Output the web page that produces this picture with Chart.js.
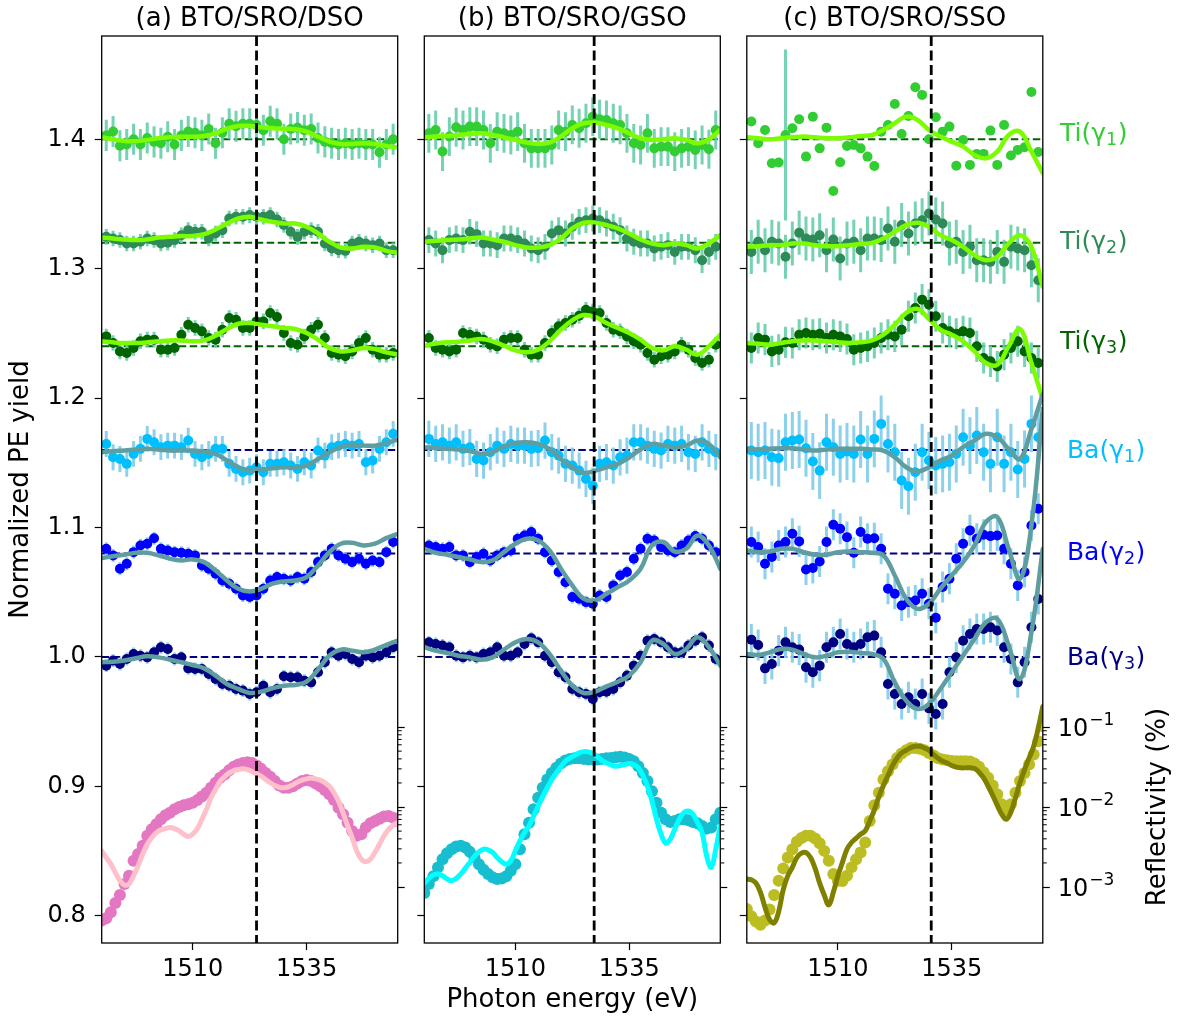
<!DOCTYPE html>
<html>
<head>
<meta charset="utf-8">
<title>Normalized PE yield</title>
<script src="https://cdn.jsdelivr.net/npm/chart.js@4.4.1/dist/chart.umd.min.js"></script>
<style>
  html, body { margin:0; padding:0; background:#ffffff; }
  #wrap { position:relative; width:1183px; height:1023px; overflow:hidden; background:#fff; }
  #wrap canvas { position:absolute; left:0; top:0; }
</style>
</head>
<body>
<div id="wrap">
  <canvas id="panelA" width="1183" height="1023"></canvas>
  <canvas id="panelB" width="1183" height="1023"></canvas>
  <canvas id="panelC" width="1183" height="1023"></canvas>
</div>
<script>
// ---------------- DATA ----------------
const panelTitles = ['(a) BTO/SRO/DSO', '(b) BTO/SRO/GSO', '(c) BTO/SRO/SSO'];
const seriesNames = ['Ti', 'Ti', 'Ti', 'Ba', 'Ba', 'Ba'];
const seriesSubs = ['1', '2', '3', '1', '2', '3'];
const baselines = [1.40, 1.32, 1.24, 1.16, 1.08, 1.00];
const vlines = [1524.0, 1527.3, 1530.5];
const xLimits = [1490, 1555];
const xTicks = [1510, 1535];
const yTicks = [0.8, 0.9, 1.0, 1.1, 1.2, 1.3, 1.4];
const reflTicks = [0.001, 0.01, 0.1];
const reflTickExp = ['−3', '−2', '−1'];
const reflMinor = [0.002,0.003,0.004,0.005,0.006,0.007,0.008,0.009,0.02,0.03,0.04,0.05,0.06,0.07,0.08,0.09];

const peE = [1491,1492.5,1494,1495.5,1497,1498.5,1500,1501.5,1503,1504.5,1506,1507.5,1509,1510.5,1512,1513.5,1515,1516.5,1518,1519.5,1521,1522.5,1524,1525.5,1527,1528.5,1530,1531.5,1533,1534.5,1536,1537.5,1539,1540.5,1542,1543.5,1545,1546.5,1548,1549.5,1551,1552.5,1554];
const fitE = [1490,1492.5,1495,1497.5,1500,1502.5,1505,1507.5,1510,1512.5,1515,1517.5,1520,1522.5,1525,1527.5,1530,1532.5,1535,1537.5,1540,1542.5,1545,1547.5,1550,1552.5,1555];
const refE = [1490,1491,1492,1493,1494,1495,1496,1497,1498,1499,1500,1501,1502,1503,1504,1505,1506,1507,1508,1509,1510,1511,1512,1513,1514,1515,1516,1517,1518,1519,1520,1521,1522,1523,1524,1525,1526,1527,1528,1529,1530,1531,1532,1533,1534,1535,1536,1537,1538,1539,1540,1541,1542,1543,1544,1545,1546,1547,1548,1549,1550,1551,1552,1553,1554,1555];

// Panel (a) BTO/SRO/DSO
const aTi1 = [1.403,1.406,1.395,1.396,1.400,1.396,1.401,1.398,1.397,1.402,1.396,1.403,1.406,1.405,1.403,1.408,1.397,1.405,1.412,1.410,1.412,1.412,1.411,1.407,1.414,1.412,1.400,1.408,1.409,1.407,1.408,1.401,1.398,1.397,1.396,1.397,1.396,1.397,1.396,1.396,1.390,1.396,1.400];
const aTi1Fit = [1.4015,1.400,1.3987,1.3985,1.3995,1.4008,1.4015,1.402,1.402,1.4026,1.4046,1.4082,1.4103,1.4103,1.4093,1.4085,1.4082,1.4077,1.4059,1.402,1.3982,1.3964,1.3964,1.3969,1.3964,1.3948,1.3938];
const aTi2 = [1.3246,1.3233,1.3221,1.3195,1.3195,1.3208,1.3233,1.3221,1.3195,1.320,1.3221,1.3259,1.3298,1.3285,1.3285,1.3233,1.3272,1.3298,1.3388,1.3401,1.3401,1.3414,1.3401,1.3401,1.3414,1.338,1.3337,1.3285,1.3246,1.3285,1.3298,1.3285,1.3195,1.3156,1.3143,1.3138,1.3195,1.3208,1.3195,1.3182,1.3195,1.3143,1.3143];
const aTi2Fit = [1.3241,1.3233,1.3226,1.3221,1.3226,1.3241,1.3246,1.3252,1.3252,1.3267,1.3303,1.3349,1.3388,1.3401,1.338,1.3362,1.3349,1.3349,1.3324,1.3272,1.3208,1.3164,1.3156,1.3169,1.3164,1.3138,1.3123];
const aTi3 = [1.2477,1.2426,1.2361,1.2348,1.2387,1.2439,1.2452,1.2452,1.2374,1.2374,1.2387,1.249,1.2567,1.2542,1.2516,1.2464,1.2452,1.2529,1.2619,1.2606,1.2542,1.2542,1.2593,1.2593,1.2658,1.2627,1.2503,1.2426,1.2413,1.2477,1.2529,1.2567,1.2464,1.2348,1.2336,1.2323,1.2361,1.2426,1.2464,1.2374,1.2336,1.2336,1.2348];
const aTi3Fit = [1.2439,1.2431,1.2426,1.2426,1.2431,1.2439,1.2446,1.2446,1.2439,1.2446,1.2482,1.2534,1.2575,1.258,1.2567,1.2555,1.2542,1.2534,1.2503,1.2452,1.2387,1.2361,1.2369,1.2387,1.2379,1.2354,1.2336];
const aBa1 = [1.1646,1.1543,1.153,1.1492,1.1569,1.1608,1.1685,1.1659,1.1621,1.1633,1.1633,1.1621,1.1672,1.1569,1.1543,1.1569,1.1608,1.1608,1.1492,1.1453,1.1427,1.144,1.1466,1.1427,1.1492,1.1492,1.1505,1.1479,1.1453,1.1505,1.1479,1.1595,1.1556,1.1621,1.1633,1.1646,1.1633,1.1646,1.1505,1.1518,1.1608,1.1659,1.1724];
const aBa1Fit = [1.1582,1.159,1.1595,1.1603,1.1608,1.1603,1.1595,1.1595,1.1595,1.1587,1.1569,1.1518,1.1466,1.144,1.1448,1.1458,1.1466,1.1466,1.1479,1.153,1.1582,1.1621,1.1639,1.1633,1.1633,1.1654,1.168];
const aBa2 = [1.0836,1.0785,1.0682,1.072,1.081,1.0862,1.0875,1.0918,1.0836,1.0823,1.081,1.0805,1.0797,1.0785,1.0707,1.0682,1.0643,1.0591,1.0566,1.0527,1.0475,1.0463,1.0475,1.0527,1.0591,1.0617,1.0604,1.0591,1.0617,1.0604,1.0656,1.0733,1.0785,1.0836,1.0785,1.0759,1.0733,1.0759,1.072,1.0746,1.0733,1.081,1.0888];
const aBa2Fit = [1.0764,1.0779,1.079,1.0805,1.0805,1.0785,1.0759,1.0746,1.0754,1.0733,1.0669,1.0591,1.0527,1.0506,1.0527,1.0566,1.0584,1.0591,1.0617,1.0707,1.081,1.0875,1.0882,1.0862,1.0875,1.0918,1.0952];
const aBa3 = [0.9933,0.9972,0.9946,0.9985,1.0023,1.001,0.9997,1.0036,1.0075,1.0062,0.9985,0.9997,0.9912,0.9907,0.9907,0.9869,0.983,0.9791,0.9778,0.9753,0.974,0.9714,0.9727,0.9778,0.9727,0.9753,0.9851,0.9843,0.9843,0.9817,0.9804,0.9882,0.9959,1.0036,1.001,1.0023,0.9985,0.9959,1.001,0.9997,1.001,1.0036,1.0075];
const aBa3Fit = [0.9959,0.9964,0.9972,0.999,1.0005,0.9997,0.9979,0.9959,0.9938,0.9912,0.9856,0.9791,0.9753,0.9722,0.9732,0.9758,0.9778,0.9784,0.9809,0.9902,1.001,1.0057,1.0049,1.0036,1.0057,1.0093,1.0126];
const aErr = [0.012, 0.006, 0.006, 0.010, 0.005, 0.005];
const aRef = [3.81e-4,4.07e-4,4.84e-4,6.32e-4,7.94e-4,1.09e-3,1.38e-3,2.13e-3,2.58e-3,3.27e-3,4.36e-3,5.27e-3,6.08e-3,7.02e-3,7.88e-3,8.50e-3,9.35e-3,1.0e-2,1.05e-2,1.08e-2,1.13e-2,1.22e-2,1.35e-2,1.51e-2,1.74e-2,2.01e-2,2.32e-2,2.55e-2,2.89e-2,3.18e-2,3.40e-2,3.56e-2,3.63e-2,3.56e-2,3.30e-2,3.00e-2,2.67e-2,2.39e-2,2.11e-2,1.86e-2,1.74e-2,1.74e-2,1.82e-2,1.97e-2,2.11e-2,2.17e-2,2.11e-2,1.97e-2,1.82e-2,1.63e-2,1.44e-2,1.22e-2,9.8e-3,8.1e-3,6.38e-3,5.03e-3,4.36e-3,4.57e-3,5.53e-3,6.26e-3,6.70e-3,7.16e-3,7.59e-3,7.73e-3,7.36e-3,6.70e-3];
const aRefFit = [2.83e-3,2.34e-3,1.93e-3,1.52e-3,1.20e-3,1.06e-3,1.09e-3,1.38e-3,1.85e-3,2.58e-3,3.43e-3,4.15e-3,4.79e-3,5.18e-3,5.37e-3,5.53e-3,5.37e-3,5.03e-3,4.57e-3,4.28e-3,4.57e-3,5.37e-3,7.02e-3,9.35e-3,1.31e-2,1.66e-2,2.11e-2,2.39e-2,2.67e-2,2.86e-2,2.94e-2,3.00e-2,2.94e-2,2.78e-2,2.60e-2,2.43e-2,2.21e-2,2.01e-2,1.86e-2,1.76e-2,1.74e-2,1.79e-2,1.90e-2,2.05e-2,2.17e-2,2.25e-2,2.30e-2,2.25e-2,2.17e-2,2.01e-2,1.82e-2,1.51e-2,1.19e-2,8.50e-3,5.80e-3,4.15e-3,2.83e-3,2.23e-3,2.07e-3,2.23e-3,2.70e-3,3.43e-3,4.36e-3,5.27e-3,5.92e-3,6.38e-3];

// Panel (b) BTO/SRO/GSO
const bTi1 = [1.4046,1.4072,1.3905,1.4021,1.4093,1.4072,1.4098,1.4098,1.4072,1.3969,1.4059,1.4046,1.4033,1.4059,1.3969,1.393,1.393,1.393,1.3956,1.4072,1.4059,1.4111,1.4085,1.4124,1.4175,1.4155,1.4149,1.4124,1.4111,1.4046,1.3969,1.3956,1.4046,1.393,1.3943,1.3943,1.3905,1.393,1.3943,1.3918,1.3956,1.3923,1.4072];
const bTi1Fit = [1.4015,1.4021,1.4026,1.4033,1.4041,1.4046,1.4033,1.4015,1.3995,1.3974,1.3964,1.3974,1.4021,1.4085,1.4124,1.4129,1.4111,1.4085,1.4046,1.4008,1.3995,1.400,1.4008,1.3995,1.3969,1.400,1.4072];
const bTi2 = [1.3221,1.3195,1.3143,1.3221,1.3233,1.3221,1.3285,1.3267,1.3195,1.3195,1.3182,1.3233,1.3233,1.3221,1.3195,1.3156,1.3143,1.3169,1.3272,1.3298,1.3272,1.3324,1.3362,1.3375,1.3388,1.3375,1.3349,1.3324,1.3298,1.3233,1.3208,1.3195,1.3195,1.3156,1.3169,1.3182,1.313,1.3169,1.3169,1.3143,1.3066,1.313,1.3169];
const bTi2Fit = [1.3208,1.3215,1.3221,1.3226,1.3233,1.3241,1.3226,1.3208,1.3182,1.3164,1.3164,1.3182,1.3233,1.3311,1.3355,1.3355,1.3337,1.3311,1.3272,1.3226,1.3195,1.3182,1.3195,1.3182,1.3156,1.3195,1.3259];
const bTi3 = [1.2464,1.2387,1.2374,1.2361,1.2374,1.2503,1.249,1.2477,1.2452,1.2413,1.24,1.2452,1.2464,1.2464,1.2374,1.2336,1.2336,1.2426,1.2503,1.2555,1.258,1.2606,1.2637,1.2683,1.267,1.2658,1.258,1.2529,1.2516,1.2477,1.2439,1.2413,1.2348,1.2297,1.2323,1.2336,1.2361,1.2413,1.2374,1.231,1.2271,1.2297,1.2413];
const bTi3Fit = [1.2405,1.2421,1.2431,1.2436,1.2446,1.2457,1.2439,1.2405,1.2369,1.2354,1.2374,1.2439,1.2529,1.2601,1.2642,1.2627,1.258,1.2542,1.2503,1.2452,1.2387,1.2369,1.24,1.2374,1.2336,1.24,1.249];
const bBa1 = [1.1685,1.1646,1.1659,1.1633,1.1659,1.1608,1.1621,1.153,1.1518,1.1582,1.1633,1.1608,1.1646,1.1633,1.1633,1.1608,1.1613,1.1672,1.1582,1.1556,1.1492,1.1479,1.144,1.1376,1.1324,1.1492,1.1505,1.1479,1.1543,1.1556,1.1659,1.1659,1.1633,1.1608,1.1595,1.1646,1.1633,1.1646,1.1582,1.1569,1.1659,1.1608,1.1582];
const bBa1Fit = [1.1621,1.1613,1.1608,1.1603,1.1592,1.1569,1.1582,1.1628,1.1654,1.1659,1.1646,1.1608,1.153,1.1466,1.1422,1.144,1.1466,1.1492,1.1543,1.1603,1.1646,1.1633,1.1621,1.1633,1.1672,1.1646,1.1543];
const bBa2 = [1.0862,1.0849,1.0836,1.0849,1.0785,1.0785,1.0733,1.0772,1.0797,1.0746,1.0785,1.081,1.0823,1.0913,1.0939,1.0965,1.0913,1.081,1.0746,1.0656,1.0578,1.0463,1.045,1.0424,1.0411,1.0475,1.0463,1.0553,1.063,1.0656,1.0759,1.0836,1.0913,1.09,1.0849,1.0823,1.081,1.0862,1.09,1.0934,1.0913,1.0862,1.081];
const bBa2Fit = [1.0836,1.0805,1.079,1.0772,1.0754,1.0733,1.0746,1.081,1.0875,1.0913,1.09,1.0823,1.0682,1.0553,1.045,1.0437,1.0488,1.054,1.0591,1.0682,1.0862,1.0888,1.0815,1.0836,1.0939,1.0862,1.0682];
const bBa3 = [1.0113,1.01,1.0088,1.0075,1.001,0.9997,1.001,0.9997,1.0023,1.0036,1.0075,1.001,1.001,1.0036,1.01,1.0144,1.0113,1.001,0.9959,0.9882,0.9843,0.9753,0.9727,0.9714,0.9675,0.9727,0.9732,0.9753,0.9804,0.9856,0.9933,1.001,1.0126,1.0139,1.0113,1.0075,1.0036,1.0036,1.0088,1.0126,1.0152,1.0088,0.9985];
const bBa3Fit = [1.0075,1.0049,1.0031,1.001,0.9997,0.9979,0.9997,1.0057,1.0113,1.0139,1.0113,1.0023,0.9894,0.9778,0.9722,0.9732,0.9773,0.9809,0.9856,0.9959,1.0126,1.01,1.0023,1.0062,1.0152,1.0075,0.9933];
const bErr = [0.015, 0.010, 0.006, 0.014, 0.005, 0.005];
const bRef = [8.41e-4,1.09e-3,1.36e-3,1.76e-3,2.23e-3,2.65e-3,2.97e-3,3.21e-3,3.27e-3,3.12e-3,2.75e-3,2.34e-3,1.93e-3,1.64e-3,1.45e-3,1.32e-3,1.26e-3,1.28e-3,1.36e-3,1.60e-3,1.93e-3,2.97e-3,4.57e-3,6.38e-3,9.35e-3,1.31e-2,1.74e-2,2.21e-2,2.67e-2,3.09e-2,3.50e-2,3.81e-2,4.00e-2,4.07e-2,4.07e-2,4.00e-2,3.92e-2,3.92e-2,3.92e-2,4.00e-2,4.07e-2,4.11e-2,4.19e-2,4.24e-2,4.15e-2,4.00e-2,3.74e-2,3.24e-2,2.67e-2,2.11e-2,1.58e-2,1.13e-2,8.50e-3,7.02e-3,6.50e-3,6.70e-3,7.02e-3,7.02e-3,6.82e-3,6.50e-3,6.26e-3,5.80e-3,5.37e-3,5.53e-3,7.02e-3,8.50e-3];
const bRefFit = [1.12e-3,1.28e-3,1.41e-3,1.45e-3,1.38e-3,1.26e-3,1.20e-3,1.28e-3,1.45e-3,1.71e-3,2.03e-3,2.41e-3,2.75e-3,2.97e-3,2.92e-3,2.70e-3,2.34e-3,2.07e-3,1.93e-3,2.13e-3,2.83e-3,3.78e-3,4.79e-3,5.80e-3,7.73e-3,1.03e-2,1.35e-2,1.74e-2,2.21e-2,2.67e-2,3.18e-2,3.74e-2,4.11e-2,4.40e-2,4.75e-2,4.93e-2,4.89e-2,4.66e-2,4.24e-2,3.81e-2,3.56e-2,3.37e-2,3.24e-2,3.30e-2,3.40e-2,3.50e-2,3.40e-2,3.09e-2,2.48e-2,1.82e-2,1.19e-2,7.02e-3,4.57e-3,3.53e-3,3.96e-3,5.27e-3,7.02e-3,8.50e-3,8.91e-3,8.10e-3,6.38e-3,4.79e-3,2.46e-3,1.76e-3,2.97e-3,5.80e-3];

// Panel (c) BTO/SRO/SSO
const cTi1 = [1.4137,1.3969,1.4072,1.3815,1.382,1.4033,1.4085,1.4155,1.3866,1.4175,1.393,1.409,1.3601,1.3822,1.3948,1.3956,1.393,1.3866,1.3794,1.4059,1.4111,1.4273,1.4041,1.418,1.4402,1.4343,1.400,1.417,1.4059,1.4098,1.3796,1.3995,1.3802,1.3887,1.3887,1.4067,1.3802,1.4111,1.3874,1.3918,1.3938,1.4366,1.3902];
const cTi1Err = [null,null,null,null,null,0.066,null,null,null,null,null,null,null,null,null,null,null,null,null,null,null,null,null,null,null,null,null,null,null,null,null,null,null,null,null,null,null,null,null,null,null,null,null];
const cTi1Fit = [1.4015,1.4008,1.400,1.4008,1.4015,1.4021,1.4015,1.4008,1.4008,1.4015,1.4026,1.4033,1.4072,1.4124,1.4175,1.4149,1.4072,1.4021,1.3982,1.3943,1.3879,1.3853,1.3905,1.4033,1.4059,1.3905,1.3737];
const cTi2 = [1.313,1.3208,1.3143,1.3208,1.3195,1.3092,1.3195,1.3277,1.3233,1.3226,1.3259,1.3143,1.3226,1.3079,1.3195,1.3208,1.3143,1.3233,1.3233,1.3221,1.3311,1.3208,1.3337,1.3272,1.3349,1.3375,1.3427,1.338,1.3349,1.3195,1.3208,1.313,1.3169,1.3066,1.3066,1.3053,1.313,1.3053,1.3169,1.3156,1.3143,1.3027,1.2911];
const cTi2Fit = [1.3169,1.3174,1.3182,1.3182,1.3195,1.3195,1.3182,1.3174,1.3174,1.3182,1.319,1.32,1.3233,1.3285,1.3337,1.3355,1.3324,1.3259,1.3221,1.3169,1.3105,1.3066,1.3092,1.3195,1.3259,1.3169,1.286];
const cTi3 = [1.2387,1.2464,1.2452,1.2361,1.2374,1.2431,1.2426,1.249,1.2503,1.249,1.2498,1.2464,1.249,1.2477,1.2457,1.2374,1.2387,1.24,1.2426,1.2464,1.249,1.2477,1.2529,1.2632,1.2696,1.2761,1.2722,1.2632,1.2542,1.2516,1.2498,1.2516,1.2503,1.24,1.231,1.2284,1.2245,1.2336,1.2387,1.2439,1.2361,1.231,1.2271];
const cTi3Fit = [1.2426,1.2421,1.2413,1.2426,1.2439,1.2446,1.2446,1.2439,1.2431,1.2426,1.2431,1.2446,1.249,1.2567,1.2658,1.2689,1.2611,1.2529,1.249,1.2439,1.2361,1.2271,1.2258,1.24,1.2534,1.2271,1.1988];
const cBa1 = [1.1595,1.1582,1.1595,1.1543,1.1536,1.1659,1.1672,1.168,1.1613,1.151,1.144,1.1659,1.1621,1.1569,1.1587,1.1569,1.168,1.1569,1.1685,1.1801,1.1646,1.1582,1.1363,1.1319,1.1427,1.1582,1.1518,1.1479,1.1492,1.1505,1.1569,1.1698,1.1633,1.1711,1.1582,1.1492,1.1698,1.1492,1.1582,1.1448,1.153,1.1801,1.1698];
const cBa1Fit = [1.1608,1.1603,1.1608,1.1613,1.1613,1.1603,1.1595,1.1603,1.1608,1.1608,1.1608,1.1603,1.1595,1.1543,1.1466,1.1433,1.1466,1.1518,1.1556,1.1621,1.1672,1.1724,1.1698,1.1608,1.153,1.1762,1.2033];
const cBa2 = [1.0888,1.0849,1.072,1.0772,1.0862,1.0888,1.0952,1.0893,1.0676,1.0687,1.0738,1.0888,1.1022,1.0991,1.0926,1.0805,1.0965,1.0913,1.0918,1.0836,1.0527,1.0488,1.0398,1.0424,1.0437,1.0488,1.0411,1.0303,1.054,1.0604,1.0759,1.0875,1.0978,1.0913,1.0944,1.0934,1.0939,1.0836,1.072,1.0553,1.0656,1.1016,1.1145];
const cBa2Fit = [1.0823,1.081,1.0815,1.0836,1.0836,1.081,1.079,1.079,1.081,1.0815,1.081,1.0805,1.0785,1.063,1.045,1.0372,1.0411,1.0527,1.063,1.0733,1.0862,1.1042,1.1081,1.0836,1.0604,1.1016,1.1918];
const cBa3 = [1.0134,1.0093,0.9912,0.9946,1.0049,1.0113,1.0075,1.0057,0.992,0.9882,0.9933,1.0075,1.0113,1.0178,1.01,1.0075,1.01,1.0152,1.0165,1.0036,0.9791,0.9714,0.9637,0.9688,0.9637,0.9714,0.9603,0.956,0.9637,0.9882,0.9997,1.0126,1.0178,1.0216,1.0216,1.0229,1.0204,1.0075,0.9985,0.9804,0.9959,1.0229,1.0448];
const cBa3Fit = [1.0023,1.0015,1.0036,1.0062,1.0057,1.0023,0.9997,1.001,1.0036,1.0041,1.0031,1.0023,0.9985,0.9804,0.9663,0.9598,0.9637,0.9753,0.9882,1.001,1.0139,1.0268,1.0294,1.0088,0.983,1.0191,1.0835];
const cErr = [cTi1Err, 0.017, 0.012, 0.022, 0.012, 0.012];
const cRef = [5.32e-4,4.31e-4,3.70e-4,3.37e-4,3.81e-4,5.22e-4,7.94e-4,1.20e-3,1.71e-3,2.34e-3,2.97e-3,3.67e-3,4.11e-3,4.36e-3,4.36e-3,4.04e-3,3.53e-3,2.83e-3,2.13e-3,1.45e-3,1.20e-3,1.19e-3,1.38e-3,1.76e-3,2.23e-3,2.70e-3,3.60e-3,6.70e-3,1.05e-2,1.51e-2,2.21e-2,2.81e-2,3.40e-2,4.11e-2,4.66e-2,5.13e-2,5.48e-2,5.48e-2,5.37e-2,5.13e-2,4.75e-2,4.40e-2,4.07e-2,3.92e-2,3.85e-2,3.77e-2,3.74e-2,3.74e-2,3.74e-2,3.70e-2,3.50e-2,3.18e-2,2.73e-2,2.32e-2,1.86e-2,1.44e-2,1.08e-2,9.18e-3,1.08e-2,1.51e-2,2.11e-2,2.67e-2,3.40e-2,4.53e-2,6.64e-2,1.02e-1];
const cRefFit = [1.26e-3,1.23e-3,1.12e-3,8.59e-4,5.58e-4,3.92e-4,3.56e-4,4.93e-4,9.27e-4,1.38e-3,1.76e-3,2.34e-3,2.65e-3,2.70e-3,2.34e-3,1.71e-3,1.12e-3,7.94e-4,5.97e-4,8.59e-4,1.38e-3,2.03e-3,2.97e-3,3.60e-3,4.07e-3,4.57e-3,5.03e-3,6.70e-3,9.18e-3,1.35e-2,1.86e-2,2.48e-2,3.30e-2,4.11e-2,4.75e-2,5.13e-2,5.53e-2,5.74e-2,5.74e-2,5.48e-2,5.13e-2,4.53e-2,4.07e-2,3.74e-2,3.56e-2,3.30e-2,3.15e-2,3.09e-2,3.09e-2,3.09e-2,3.03e-2,2.73e-2,2.32e-2,1.82e-2,1.40e-2,1.05e-2,8.10e-3,7.02e-3,8.67e-3,1.31e-2,2.01e-2,2.94e-2,4.11e-2,5.74e-2,9.72e-2,1.81e-1];

// ---------------- STYLE / LAYOUT ----------------
const FONT = 'DejaVu Sans';
Chart.defaults.font.family = FONT;
Chart.defaults.color = '#000';

const ptColors = ['#32CD32', '#2E8B57', '#006400', '#00BFFF', '#0000FF', '#000080'];
const errColors = ['rgba(102,205,170,0.9)', 'rgba(102,205,170,0.9)', 'rgba(102,205,170,0.9)', 'rgba(135,206,235,0.95)', 'rgba(135,206,235,0.95)', 'rgba(135,206,235,0.95)'];
const fitColors = ['#7CFC00', '#7CFC00', '#7CFC00', '#5F9EA0', '#5F9EA0', '#5F9EA0'];
const baseColors = ['#006400', '#006400', '#006400', '#000080', '#000080', '#000080'];
const refDotColors = ['#e377c2', '#17becf', '#bcbd22'];
const refLineColors = ['#ffc0cb', '#00ffff', '#808000'];

const CW = 1183, CH = 1023;
const plotTop = 36, xAxisH = 80, plotW = 296;
const yLimits = [0.779, 1.4798];
const y2Limits = [Math.pow(10, -3.70), Math.pow(10, 7.64)];
const labelPos = { x: [1558.8, 1558.8, 1558.8, 1560.3, 1560.3, 1560.3], y: [1.406, 1.322, 1.245, 1.161, 1.082, 1.001] };
const reflLabelPos = { x: 1158, y: 807 };

const panels = [
  { canvas: 'panelA', plotLeft: 101.7, yW: 101.7, y2W: 10, yLabels: true, y2Labels: false, xTitle: false,
    pe: [aTi1, aTi2, aTi3, aBa1, aBa2, aBa3], fit: [aTi1Fit, aTi2Fit, aTi3Fit, aBa1Fit, aBa2Fit, aBa3Fit], err: aErr, ref: aRef, refFit: aRefFit },
  { canvas: 'panelB', plotLeft: 424.3, yW: 10, y2W: 10, yLabels: false, y2Labels: false, xTitle: true,
    pe: [bTi1, bTi2, bTi3, bBa1, bBa2, bBa3], fit: [bTi1Fit, bTi2Fit, bTi3Fit, bBa1Fit, bBa2Fit, bBa3Fit], err: bErr, ref: bRef, refFit: bRefFit },
  { canvas: 'panelC', plotLeft: 746.8, yW: 10, y2W: 100, yLabels: false, y2Labels: true, xTitle: false,
    pe: [cTi1, cTi2, cTi3, cBa1, cBa2, cBa3], fit: [cTi1Fit, cTi2Fit, cTi3Fit, cBa1Fit, cBa2Fit, cBa3Fit], err: cErr, ref: cRef, refFit: cRefFit }
];

function fontStr(size) { return size + 'px "' + FONT + '"'; }

// ---------------- PLUGIN ----------------
const decor = {
  id: 'decor',
  beforeDatasetDraw(chart, args) {
    const ds = chart.data.datasets[args.index];
    if (ds.errors === undefined) return;
    const xs = chart.scales.x, ys = chart.scales.y;
    const ctx = chart.ctx, a = chart.chartArea;
    ctx.save();
    ctx.beginPath();
    ctx.rect(a.left, a.top, a.right - a.left, a.bottom - a.top);
    ctx.clip();
    ctx.strokeStyle = ds.errColor;
    ctx.lineWidth = 3;
    ds.data.forEach((p, i) => {
      const e = Array.isArray(ds.errors) ? ds.errors[i] : ds.errors;
      if (e === null || e === undefined) return;
      const px = xs.getPixelForValue(p.x);
      ctx.beginPath();
      ctx.moveTo(px, ys.getPixelForValue(p.y - e));
      ctx.lineTo(px, ys.getPixelForValue(p.y + e));
      ctx.stroke();
    });
    ctx.restore();
  },
  afterDatasetsDraw(chart, args, opts) {
    const ctx = chart.ctx, a = chart.chartArea, xs = chart.scales.x;
    const px = xs.getPixelForValue(opts.vline);
    ctx.save();
    ctx.beginPath();
    ctx.setLineDash([10, 4.5]);
    ctx.lineWidth = 2.8;
    ctx.strokeStyle = '#000';
    ctx.moveTo(px, a.top);
    ctx.lineTo(px, a.bottom);
    ctx.stroke();
    ctx.restore();
  },
  afterDraw(chart, args, opts) {
    const ctx = chart.ctx, a = chart.chartArea;
    const xs = chart.scales.x, ys = chart.scales.y, y2 = chart.scales.y2;
    ctx.save();
    // frame
    ctx.strokeStyle = '#000';
    ctx.lineWidth = 1.3;
    ctx.strokeRect(a.left, a.top, a.right - a.left, a.bottom - a.top);
    // minor log ticks on the right spine
    ctx.lineWidth = 1;
    reflMinor.forEach(v => {
      const py = y2.getPixelForValue(v);
      ctx.beginPath();
      ctx.moveTo(a.right, py);
      ctx.lineTo(a.right + 4, py);
      ctx.stroke();
    });
    // title
    ctx.fillStyle = '#000';
    ctx.font = fontStr(26);
    ctx.textAlign = 'center';
    ctx.textBaseline = 'alphabetic';
    ctx.fillText(opts.title, (a.left + a.right) / 2, 26);
    if (opts.rightLabels) {
      // reflectivity tick labels 10^-n
      ctx.textAlign = 'left';
      ctx.textBaseline = 'alphabetic';
      reflTicks.forEach((v, i) => {
        const py = y2.getPixelForValue(v);
        const x0 = a.right + 7 + 8;
        const base = py + 9;
        ctx.font = fontStr(24);
        ctx.fillText('10', x0, base);
        const w = ctx.measureText('10').width;
        ctx.font = fontStr(17);
        ctx.fillText(reflTickExp[i], x0 + w + 1, base - 11);
      });
      // series labels with subscripts
      ctx.textBaseline = 'alphabetic';
      seriesNames.forEach((name, i) => {
        ctx.fillStyle = ptColors[i];
        let x = xs.getPixelForValue(labelPos.x[i]);
        const base = ys.getPixelForValue(labelPos.y[i]) + 9;
        ctx.font = fontStr(25);
        const head = name + '(γ';
        ctx.fillText(head, x, base);
        x += ctx.measureText(head).width;
        ctx.font = fontStr(17.5);
        ctx.fillText(seriesSubs[i], x, base + 4);
        x += ctx.measureText(seriesSubs[i]).width + 0.5;
        ctx.font = fontStr(25);
        ctx.fillText(')', x, base);
      });
      // right axis title
      ctx.fillStyle = '#000';
      ctx.font = fontStr(26);
      ctx.translate(reflLabelPos.x, reflLabelPos.y);
      ctx.rotate(-Math.PI / 2);
      ctx.textAlign = 'center';
      ctx.textBaseline = 'middle';
      ctx.fillText('Reflectivity (%)', 0, 0);
    }
    ctx.restore();
  }
};

// ---------------- BUILD ----------------
panels.forEach((p, k) => {
  const datasets = [];
  const N = 1000;
  let seq = 0;
  for (let s = 0; s < 6; s++) {
    datasets.push({
      type: 'line', yAxisID: 'y', order: N - (seq++),
      data: [{ x: xLimits[0], y: baselines[s] }, { x: xLimits[1], y: baselines[s] }],
      borderColor: baseColors[s], borderWidth: 2, borderDash: [7.5, 3.5],
      pointRadius: 0, fill: false, tension: 0
    });
    datasets.push({
      type: 'scatter', yAxisID: 'y', order: N - (seq++),
      data: peE.map((x, i) => ({ x: x, y: p.pe[s][i] })),
      backgroundColor: ptColors[s], borderColor: ptColors[s],
      pointRadius: 5, pointBorderWidth: 0, pointHoverRadius: 5, showLine: false,
      errors: p.err[s], errColor: errColors[s]
    });
    datasets.push({
      type: 'line', yAxisID: 'y', order: N - (seq++),
      data: fitE.map((x, i) => ({ x: x, y: p.fit[s][i] })),
      borderColor: fitColors[s], borderWidth: 4.5, pointRadius: 0, fill: false,
      tension: 0.4, borderCapStyle: 'round', borderJoinStyle: 'round'
    });
  }
  datasets.push({
    type: 'scatter', yAxisID: 'y2', order: N - (seq++),
    data: refE.map((x, i) => ({ x: x, y: p.ref[i] })),
    backgroundColor: refDotColors[k], borderColor: refDotColors[k],
    pointRadius: 6, pointBorderWidth: 0, showLine: false
  });
  datasets.push({
    type: 'line', yAxisID: 'y2', order: N - (seq++),
    data: refE.map((x, i) => ({ x: x, y: p.refFit[i] })),
    borderColor: refLineColors[k], borderWidth: 5, pointRadius: 0, fill: false,
    tension: 0.4, borderCapStyle: 'round', borderJoinStyle: 'round'
  });

  const plotRight = p.plotLeft + plotW;
  const tickFont = { family: FONT, size: 24 };

  new Chart(document.getElementById(p.canvas), {
    type: 'scatter',
    data: { datasets: datasets },
    options: {
      responsive: false,
      animation: false,
      devicePixelRatio: 1,
      events: [],
      layout: { padding: { left: p.plotLeft - p.yW, right: CW - plotRight - p.y2W, top: plotTop, bottom: 0 } },
      plugins: {
        legend: { display: false },
        tooltip: { enabled: false },
        title: { display: false },
        decor: { vline: vlines[k], title: panelTitles[k], rightLabels: p.y2Labels }
      },
      scales: {
        x: {
          type: 'linear', position: 'bottom', min: xLimits[0], max: xLimits[1],
          afterBuildTicks: s => { s.ticks = xTicks.map(v => ({ value: v })); },
          afterFit: s => { s.height = xAxisH; },
          ticks: { font: tickFont, color: '#000', padding: 5, maxRotation: 0, autoSkip: false, callback: v => String(v) },
          grid: { drawOnChartArea: false, drawTicks: true, tickLength: 7, tickColor: '#000', tickWidth: 1.2, color: '#000' },
          border: { display: false },
          title: { display: p.xTitle, text: 'Photon energy (eV)', font: { family: FONT, size: 26 }, color: '#000', padding: { top: 0, bottom: 7 } }
        },
        y: {
          type: 'linear', position: 'left', min: yLimits[0], max: yLimits[1],
          afterBuildTicks: s => { s.ticks = yTicks.map(v => ({ value: v })); },
          afterFit: s => { s.width = p.yW; },
          ticks: { display: p.yLabels, font: tickFont, color: '#000', padding: 9, autoSkip: false, callback: v => Number(v).toFixed(1) },
          grid: { drawOnChartArea: false, drawTicks: true, tickLength: 7, tickColor: '#000', tickWidth: 1.2, color: '#000' },
          border: { display: false },
          title: { display: p.yLabels, text: 'Normalized PE yield', font: { family: FONT, size: 26 }, color: '#000', padding: { top: 6, bottom: 0 } }
        },
        y2: {
          type: 'logarithmic', position: 'right', min: y2Limits[0], max: y2Limits[1],
          afterBuildTicks: s => { s.ticks = reflTicks.map(v => ({ value: v, major: true })); },
          afterFit: s => { s.width = p.y2W; },
          ticks: { display: false },
          grid: { drawOnChartArea: false, drawTicks: true, tickLength: 7, tickColor: '#000', tickWidth: 1.2, color: '#000' },
          border: { display: false }
        }
      }
    },
    plugins: [decor]
  });
});
</script>
</body>
</html>
